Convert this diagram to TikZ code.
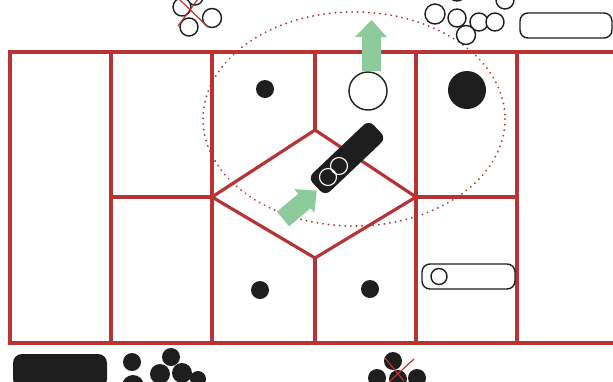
\documentclass[tikz,border=0pt]{standalone}
\usepackage{tikz}
\definecolor{gridred}{HTML}{B83434}
\definecolor{arrgreen}{HTML}{8ECB9C}
\definecolor{ink}{HTML}{1E1E1E}
\begin{document}
\begin{tikzpicture}[x=1pt,y=-1pt,
  wall/.style={draw=gridred,line width=3.2pt},
  thinred/.style={draw=gridred,line width=1.2pt},
  ring/.style={draw=ink,line width=1.4pt,fill=white},
  blob/.style={fill=ink},
  greenarrow/.style={fill=arrgreen},
  zone/.style={draw=gridred,line width=2pt,dash pattern=on 0.1pt off 5.5pt,line cap=round}]
\useasboundingbox (0,0) rectangle (613,381);
\clip (0,0) rectangle (613,381);
% dotted ellipse
\draw[zone] (354,119) ellipse [x radius=151, y radius=107];
% grid
\draw[wall] (613,52) -- (10,52) -- (10,343) -- (613,343);
\draw[wall] (111,52) -- (111,343);
\draw[wall] (212,52) -- (212,343);
\draw[wall] (416,52) -- (416,343);
\draw[wall] (517,52) -- (517,343);
\draw[wall] (315,52) -- (315,130);
\draw[wall] (315,258) -- (315,343);
\draw[wall] (111,197) -- (212,197);
\draw[wall] (416,197) -- (517,197);
\draw[wall,line join=round] (212,197) -- (315,130) -- (416,197) -- (315,258) -- cycle;
% dots
\fill[ink] (265,89) circle (9);
\fill[ink] (467,90) circle (19);
\fill[ink] (260,290) circle (9);
\fill[ink] (370,289) circle (9);
\draw[ring] (368,91) circle (19);
% green arrows
\fill[greenarrow] (362,71) -- (381,71) -- (381,37) -- (387,37) -- (371.5,20) -- (355,37) -- (362,37) -- cycle;
\fill[greenarrow] (289.1,226.3) -- (276.9,211.7) -- (298.3,193.7) -- (294.4,189.1) -- (316.7,190.7) -- (314.4,212.9) -- (310.5,208.3) -- cycle;
% black bar with figure eight
\node (bar) [blob,minimum width=84pt,minimum height=25pt,rounded corners=7pt,rotate=43.5,inner sep=0pt] at (347,158) {};
\draw[white,line width=1.1pt] (328,177) circle (8.5) (339,166) circle (8.5);
% top-left cluster
\draw[ring] (195,-3) circle (8);
\draw[ring] (182,7) circle (9);
\draw[ring] (212,18) circle (9.5);
\draw[ring] (189,27) circle (9);
\draw[thinred] (180,0) -- (208,27);
\draw[thinred] (178,26) -- (198,-1);
% top-right cluster
\draw[ring] (457,-8) circle (9);
\draw[ring] (505,0) circle (9);
\draw[ring] (435,14) circle (10);
\draw[ring] (457,18) circle (9);
\draw[ring] (479,22) circle (9);
\draw[ring] (495,22) circle (9);
\draw[ring] (466,35) circle (9.5);
\draw[ring,rounded corners=8pt] (520,13) rectangle (612,38);
% bottom-right capsule
\draw[ring,rounded corners=8pt] (422,264) rectangle (515,289);
\draw[ring] (439,276.5) circle (8);
% bottom-left
\fill[ink,rounded corners=9pt] (13,354) rectangle (107,388);
\fill[ink] (132,362) circle (9);
\fill[ink] (133,386) circle (11);
\fill[ink] (171,357) circle (9);
\fill[ink] (160,374) circle (10);
\fill[ink] (182,373) circle (10);
\fill[ink] (198,379) circle (8);
% bottom-middle
\fill[ink] (393,361) circle (9);
\fill[ink] (377,378) circle (9);
\fill[ink] (398,379) circle (9);
\fill[ink] (417,378) circle (9);
\draw[thinred] (385,358) -- (404,381);
\draw[thinred] (414,359) -- (390,381);
\end{tikzpicture}
\end{document}
